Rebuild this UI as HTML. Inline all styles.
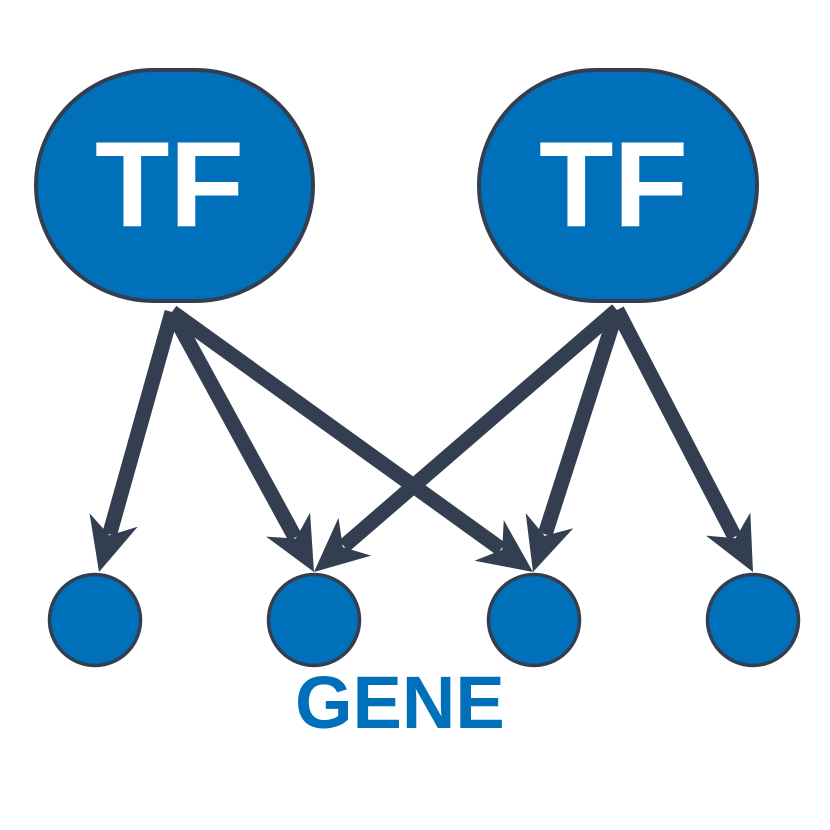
<!DOCTYPE html>
<html>
<head>
<meta charset="utf-8">
<style>
html,body{margin:0;padding:0;background:#fff;}
svg{display:block;}
</style>
</head>
<body>
<svg width="830" height="830" viewBox="0 0 830 830" xmlns="http://www.w3.org/2000/svg">
  <rect width="830" height="830" fill="#ffffff"/>
  <!-- TF nodes -->
  <rect x="36" y="70" width="277" height="231" rx="118" ry="115.5" fill="#0070ba" stroke="#333f51" stroke-width="4"/>
  <rect x="479" y="70" width="278" height="231" rx="118" ry="115.5" fill="#0070ba" stroke="#333f51" stroke-width="4"/>
  <text x="95" y="226" font-family="Liberation Sans, Arial, sans-serif" font-weight="bold" font-size="122" fill="#ffffff">TF</text>
  <text x="539" y="226" font-family="Liberation Sans, Arial, sans-serif" font-weight="bold" font-size="122" fill="#ffffff">TF</text>

  <!-- Arrows: each group placed at tip, rotated along direction -->
  <g fill="#333f51" stroke="none">
    <!-- L -> gene1 -->
    <g transform="translate(99,572) rotate(105.68)">
      <rect x="-270.05" y="-7.5" width="231" height="15"/>
      <polygon points="0,0 -54,25 -38,0 -54,-25"/>
    </g>
    <!-- L -> gene2 -->
    <g transform="translate(314,572) rotate(61.36)">
      <rect x="-296.25" y="-7.5" width="257" height="15"/>
      <polygon points="0,0 -54,25 -38,0 -54,-25"/>
    </g>
    <!-- L -> gene3 -->
    <g transform="translate(533,572) rotate(35.76)">
      <rect x="-444.88" y="-7.5" width="405.5" height="15"/>
      <polygon points="0,0 -54,25 -38,0 -54,-25"/>
    </g>
    <!-- R -> gene2 -->
    <g transform="translate(314,572) rotate(139.15)">
      <rect x="-400.57" y="-7.5" width="361" height="15"/>
      <polygon points="0,0 -54,25 -38,0 -54,-25"/>
    </g>
    <!-- R -> gene3 -->
    <g transform="translate(533,572) rotate(107.78)">
      <rect x="-275.14" y="-7.5" width="235.5" height="15"/>
      <polygon points="0,0 -54,25 -38,0 -54,-25"/>
    </g>
    <!-- R -> gene4 -->
    <g transform="translate(753,572) rotate(62.57)">
      <rect x="-295.19" y="-7.5" width="255.5" height="15"/>
      <polygon points="0,0 -54,25 -38,0 -54,-25"/>
    </g>
  </g>

  <!-- Gene nodes -->
  <circle cx="95" cy="620" r="45.5" fill="#0070ba" stroke="#333f51" stroke-width="3.5"/>
  <circle cx="314" cy="620" r="45.5" fill="#0070ba" stroke="#333f51" stroke-width="3.5"/>
  <circle cx="534" cy="620" r="45.5" fill="#0070ba" stroke="#333f51" stroke-width="3.5"/>
  <circle cx="753" cy="620" r="45.5" fill="#0070ba" stroke="#333f51" stroke-width="3.5"/>

  <text x="295" y="728" font-family="Liberation Sans, Arial, sans-serif" font-weight="bold" font-size="74" fill="#0070ba">GENE</text>
</svg>
</body>
</html>
